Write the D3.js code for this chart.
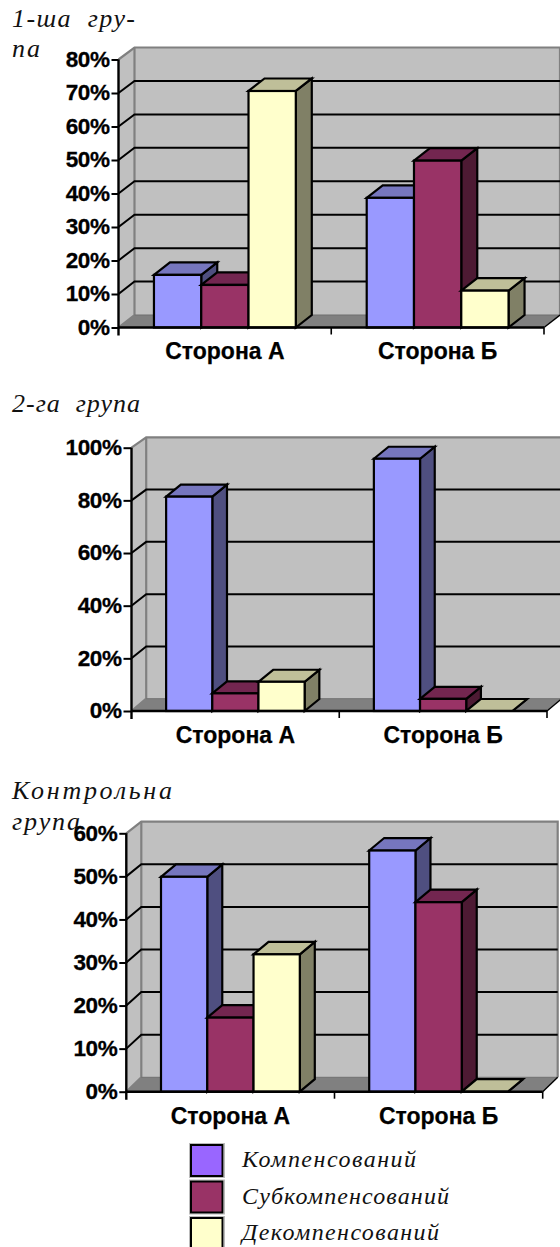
<!DOCTYPE html>
<html><head><meta charset="utf-8">
<script src="https://cdn.jsdelivr.net/npm/d3@7/dist/d3.min.js"></script>
<style>html,body{margin:0;padding:0;background:#fff;overflow:hidden}svg{display:block}</style>
</head><body><div id="c"></div>
<script>
const categories = ["Сторона А", "Сторона Б"];
const seriesNames = ["Компенсований", "Субкомпенсований", "Декомпенсований"];
const group1Values = [[15.7, 12.7, 70.6], [38.7, 49.8, 11]];
const group2Values = [[81.4, 6.7, 11.1], [95.8, 4.6, 0]];
const controlValues = [[49.9, 17.2, 31.9], [56, 44, 0]];
const group1Ticks = [0, 10, 20, 30, 40, 50, 60, 70, 80];
const group2Ticks = [0, 20, 40, 60, 80, 100];
const controlTicks = [0, 10, 20, 30, 40, 50, 60];
const group1Title = ["1-ша  гру-", "па"];
const group2Title = ["2-га  група"];
const controlTitle = ["Контрольна", "група"];

const faceColors = ["#9999FF", "#993366", "#FFFFCC"];
const topColors = ["#7676BE", "#732650", "#BFBF99"];
const sideColors = ["#4F4F80", "#4D1A33", "#808066"];
const legendColors = ["#9966FF", "#993366", "#FFFFCC"];

const svg = d3.select("#c").append("svg").attr("width", 560).attr("height", 1247);
const SERIF = "'Liberation Serif', serif", SANS = "'Liberation Sans', Arial, sans-serif";

function titleText(lines, ys, widths) {
  lines.forEach((t, i) => svg.append("text").attr("x", 12).attr("y", ys[i])
    .attr("font-family", SERIF).attr("font-style", "italic").attr("font-size", 26)
    .attr("textLength", widths[i]).attr("lengthAdjust", "spacing").attr("fill", "#111")
    .style("white-space", "pre").text(t));
}

function chart(o) {
  const g = svg.append("g");
  const y = d3.scaleLinear().domain([0, o.max]).range([o.y0, o.yTop]);
  const yBack = d3.scaleLinear().domain([0, o.max]).range([o.backY0, o.backTop]);
  const x0 = d3.scaleBand().domain(categories).range([o.xL, o.xR]);
  const x1 = d3.scaleBand().domain(seriesNames).range([0, x0.bandwidth()]).paddingInner(0).paddingOuter(0.75);
  const dx = o.dx, bdy = o.barDy;
  const xBackR = o.xR + dx, xBackL = o.xL + dx;
  const poly = pts => pts.map(p => p.join(",")).join(" ");

  // walls and floor
  g.append("polygon").attr("points", poly([[xBackL, o.backTop], [xBackR, o.backTop], [xBackR, o.backY0], [xBackL, o.backY0]])).attr("fill", "#C0C0C0");
  g.append("polygon").attr("points", poly([[o.xL, o.yTop], [xBackL, o.backTop], [xBackL, o.backY0], [o.xL, o.y0]])).attr("fill", "#C0C0C0");
  g.append("polygon").attr("points", poly([[o.xL, o.y0], [xBackL, o.backY0], [xBackR, o.backY0], [o.xR, o.y0]])).attr("fill", "#808080");
  g.append("polyline").attr("points", poly([[o.xL, o.yTop], [xBackL, o.backTop], [xBackR, o.backTop], [xBackR, o.backY0]]))
    .attr("fill", "none").attr("stroke", "#808080").attr("stroke-width", 2.2);
  g.append("polyline").attr("points", poly([[xBackL, o.backTop], [xBackL, o.backY0], [o.xL, o.y0]]))
    .attr("fill", "none").attr("stroke", "#808080").attr("stroke-width", 2.2);
  g.append("line").attr("x1", xBackL).attr("x2", xBackR).attr("y1", o.backY0).attr("y2", o.backY0).attr("stroke", "#6f6f6f").attr("stroke-width", 1);

  // gridlines
  o.ticks.slice(1, -1).forEach(t => {
    g.append("polyline").attr("points", poly([[o.xL, y(t)], [xBackL, yBack(t)], [xBackR, yBack(t)]]))
      .attr("fill", "none").attr("stroke", "#000").attr("stroke-width", 2);
  });

  // bars
  categories.forEach((c, ci) => {
    seriesNames.forEach((s, si) => {
      const v = o.values[ci][si];
      const L = x0(c) + x1(s), R = L + x1.bandwidth(), T = y(v), B = y(0);
      const st = sel => sel.attr("stroke", "#000").attr("stroke-width", 2.2).attr("stroke-linejoin", "miter");
      g.append("polygon").attr("points", poly([[R, T], [R + dx, T - bdy], [R + dx, B - bdy], [R, B]])).attr("fill", sideColors[si]).call(st);
      g.append("polygon").attr("points", poly([[L, T], [L + dx, T - bdy], [R + dx, T - bdy], [R, T]])).attr("fill", topColors[si]).call(st);
      g.append("rect").attr("x", L).attr("y", T).attr("width", R - L).attr("height", B - T).attr("fill", faceColors[si]).call(st);
    });
  });

  // axes
  const axisY = d3.axisLeft(y).tickValues(o.ticks).tickFormat(d => d + "%").tickSize(o.tick).tickPadding(o.pad);
  const ga = g.append("g").attr("transform", `translate(${o.xL},0)`).call(axisY);
  ga.select(".domain").attr("stroke", "#000").attr("stroke-width", 2.4).attr("d", `M0,${o.yTop}V${o.y0 + 8}`);
  ga.selectAll(".tick line").attr("stroke", "#000").attr("stroke-width", 2);
  ga.selectAll("text").attr("font-family", SANS).attr("font-weight", "bold").attr("font-size", 22.5).attr("fill", "#000")
    .attr("letter-spacing", -0.4).attr("stroke", "#000").attr("stroke-width", 0.3).attr("dy", "0.3em");

  const axisX = d3.axisBottom(x0).tickSize(0).tickPadding(o.catPad);
  const gx = g.append("g").attr("transform", `translate(0,${o.y0})`).call(axisX);
  gx.select(".domain").attr("stroke", "#000").attr("stroke-width", 2.4).attr("d", `M${o.xL},0H${o.xR}`);
  gx.selectAll("text").attr("font-family", SANS).attr("font-weight", "bold").attr("font-size", 23).attr("fill", "#000")
    .attr("stroke", "#000").attr("stroke-width", 0.25);
  [o.xL + x0.step(), o.xR].forEach(px => g.append("line").attr("x1", px).attr("x2", px).attr("y1", o.y0).attr("y2", o.y0 + 7).attr("stroke", "#000").attr("stroke-width", 1.6));
  g.append("line").attr("x1", o.xR).attr("y1", o.y0).attr("x2", xBackR).attr("y2", o.backY0).attr("stroke", "#000").attr("stroke-width", 1.4);
}

chart({ values: group1Values, ticks: group1Ticks, max: 80, xL: 118.5, xR: 544, y0: 327.5, yTop: 59.5, backY0: 315, backTop: 47.5, dx: 16, barDy: 12.5, tick: 7, pad: 2, catPad: 15 });
chart({ values: group2Values, ticks: group2Ticks, max: 100, xL: 131.5, xR: 547, y0: 711, yTop: 447.7, backY0: 698.7, backTop: 437.3, dx: 14.7, barDy: 12, tick: 8, pad: 2, catPad: 16 });
chart({ values: controlValues, ticks: controlTicks, max: 60, xL: 126.3, xR: 542.7, y0: 1091.7, yTop: 833.3, backY0: 1077.3, backTop: 821.7, dx: 15, barDy: 12.5, tick: 7, pad: 2, catPad: 16 });

titleText(group1Title, [27, 57], [123, 28]);
titleText(group2Title, [412], [128]);
titleText(controlTitle, [799, 830], [160, 68]);

// legend
const legendY = d3.scalePoint().domain(seriesNames).range([1145, 1218]);
seriesNames.forEach((s, i) => {
  svg.append("rect").attr("x", 189.5).attr("y", legendY(s) - 1.5).attr("width", 35).attr("height", 34).attr("fill", "none").attr("stroke", "#bbb").attr("stroke-width", 1);
  svg.append("rect").attr("x", 191).attr("y", legendY(s)).attr("width", 31.5).attr("height", 31).attr("fill", legendColors[i]).attr("stroke", "#000").attr("stroke-width", 2);
});
const legendW = [174, 207, 197];
seriesNames.forEach((s, i) => {
  svg.append("text").attr("x", 242).attr("y", legendY(s) + 22).attr("font-family", SERIF).attr("font-style", "italic")
    .attr("font-size", 24).attr("textLength", legendW[i]).attr("lengthAdjust", "spacing").attr("fill", "#111").text(s);
});
</script></body></html>
